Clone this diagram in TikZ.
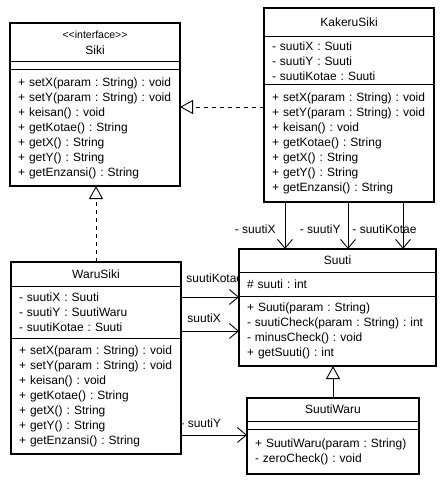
\documentclass[tikz,border=0pt]{standalone}
\usepackage{fontspec}
\setmainfont{Liberation Sans}
\usetikzlibrary{arrows.meta,positioning,backgrounds}

\begin{document}
\begin{tikzpicture}[x=1pt, y=-1pt, node distance=0pt,
    font=\fontsize{12}{15}\selectfont\frenchspacing,
    part/.style={draw, line width=1pt, fill=white, outer sep=0pt, inner ysep=0pt, inner xsep=8pt, align=left},
    head/.style={part, align=center, inner xsep=0pt},
    frame/.style={draw, line width=2pt},
    lbl/.style={inner sep=0pt},
    assoc/.style={-{Straight Barb[length=9pt,width=15pt]}, line width=0.9pt},
    inherit/.style={-{Triangle[open,fill=white,length=13pt,width=14pt]}, line width=0.9pt},
    realize/.style={inherit, dash pattern=on 4pt off 4pt}]
  \useasboundingbox (0,0) rectangle (445,484);

  % interface Siki
  \node[head, anchor=north west, minimum width=170pt, minimum height=39pt] (sikiT) at (10,23)
    {{\fontsize{10.5}{12}\selectfont <\kern0pt<interface>\kern0pt>}\\[1pt]Siki};
  \node[part, below=of sikiT, minimum width=170pt, minimum height=8pt] (sikiA) {};
  \node[part, below=of sikiA, text width=154pt, minimum height=116pt] (sikiO)
    {+ setX(param : String) : void\\+ setY(param : String) : void\\+ keisan() : void\\+ getKotae() : String\\+ getX() : String\\+ getY() : String\\+ getEnzansi() : String};
  \draw[frame] (sikiT.north west) rectangle (sikiO.south east);

  % KakeruSiki
  \node[head, anchor=north west, minimum width=170pt, minimum height=29pt] (kakeruT) at (264,8) {KakeruSiki};
  \node[part, below=of kakeruT, text width=154pt, minimum height=48pt] (kakeruA)
    {- suutiX : Suuti\\- suutiY : Suuti\\- suutiKotae : Suuti};
  \node[part, below=of kakeruA, text width=154pt, minimum height=117pt] (kakeruO)
    {+ setX(param : String) : void\\+ setY(param : String) : void\\+ keisan() : void\\+ getKotae() : String\\+ getX() : String\\+ getY() : String\\+ getEnzansi() : String};
  \draw[frame] (kakeruT.north west) rectangle (kakeruO.south east);

  % WaruSiki
  \node[head, anchor=north west, minimum width=170pt, minimum height=24pt] (waruT) at (11,262) {WaruSiki};
  \node[part, below=of waruT, text width=154pt, minimum height=52pt] (waruA)
    {- suutiX : Suuti\\- suutiY : SuutiWaru\\- suutiKotae : Suuti};
  \node[part, below=of waruA, text width=154pt, minimum height=116pt] (waruO)
    {+ setX(param : String) : void\\+ setY(param : String) : void\\+ keisan() : void\\+ getKotae() : String\\+ getX() : String\\+ getY() : String\\+ getEnzansi() : String};
  \draw[frame] (waruT.north west) rectangle (waruO.south east);

  % Suuti
  \node[head, anchor=north west, minimum width=197pt, minimum height=23pt] (suutiT) at (239,249) {Suuti};
  \node[part, below=of suutiT, text width=181pt, minimum height=24pt] (suutiA) {\# suuti : int};
  \node[part, below=of suutiA, text width=181pt, minimum height=70pt] (suutiO)
    {+ Suuti(param : String)\\- suutiCheck(param : String) : int\\- minusCheck() : void\\+ getSuuti() : int};
  \draw[frame] (suutiT.north west) rectangle (suutiO.south east);

  % SuutiWaru
  \node[head, anchor=north west, minimum width=172pt, minimum height=23pt] (suutiwaruT) at (247,398) {SuutiWaru};
  \node[part, below=of suutiwaruT, minimum width=172pt, minimum height=8pt] (suutiwaruA) {};
  \node[part, below=of suutiwaruA, text width=156pt, minimum height=45pt] (suutiwaruO)
    {+ SuutiWaru(param : String)\\- zeroCheck() : void};
  \draw[frame] (suutiwaruT.north west) rectangle (suutiwaruO.south east);

  \begin{scope}[on background layer]
    \draw[realize] ([yshift=-99pt]kakeruT.north west) -- ([yshift=-99pt]kakeruT.north west -| sikiO.east);
    \draw[realize] (waruT.north) -- (waruT.north |- sikiO.south);
    \draw[inherit] (suutiwaruT.north) -- (suutiwaruT.north |- suutiO.south);

    \draw[assoc] ([xshift=-64pt]kakeruO.south) -- ([xshift=-64pt]kakeruO.south |- suutiT.north)
      node[lbl, pos=.57, left=9pt] {- suutiX};
    \draw[assoc] ([xshift=-1pt]kakeruO.south) -- ([xshift=-1pt]kakeruO.south |- suutiT.north)
      node[lbl, pos=.57, left=7pt] {- suutiY};
    \draw[assoc] ([xshift=54pt]kakeruO.south) -- ([xshift=54pt]kakeruO.south |- suutiT.north)
      node[lbl, pos=.57, anchor=west, xshift=-51pt] {- suutiKotae};

    \draw[assoc] ([yshift=-35pt]waruT.north east) -- ([yshift=-35pt]waruT.north east -| suutiT.west)
      node[lbl, pos=0, anchor=west, xshift=5pt, yshift=19pt] {suutiKotae};
    \draw[assoc] ([yshift=-69pt]waruT.north east) -- ([yshift=-69pt]waruT.north east -| suutiT.west)
      node[lbl, pos=0, anchor=west, xshift=6pt, yshift=13pt] {suutiX};
    \draw[assoc] ([yshift=-173pt]waruT.north east) -- ([yshift=-173pt]waruT.north east -| suutiwaruT.west)
      node[lbl, pos=0, anchor=west, xshift=-1pt, yshift=12pt] {- suutiY};
  \end{scope}
\end{tikzpicture}
\end{document}
